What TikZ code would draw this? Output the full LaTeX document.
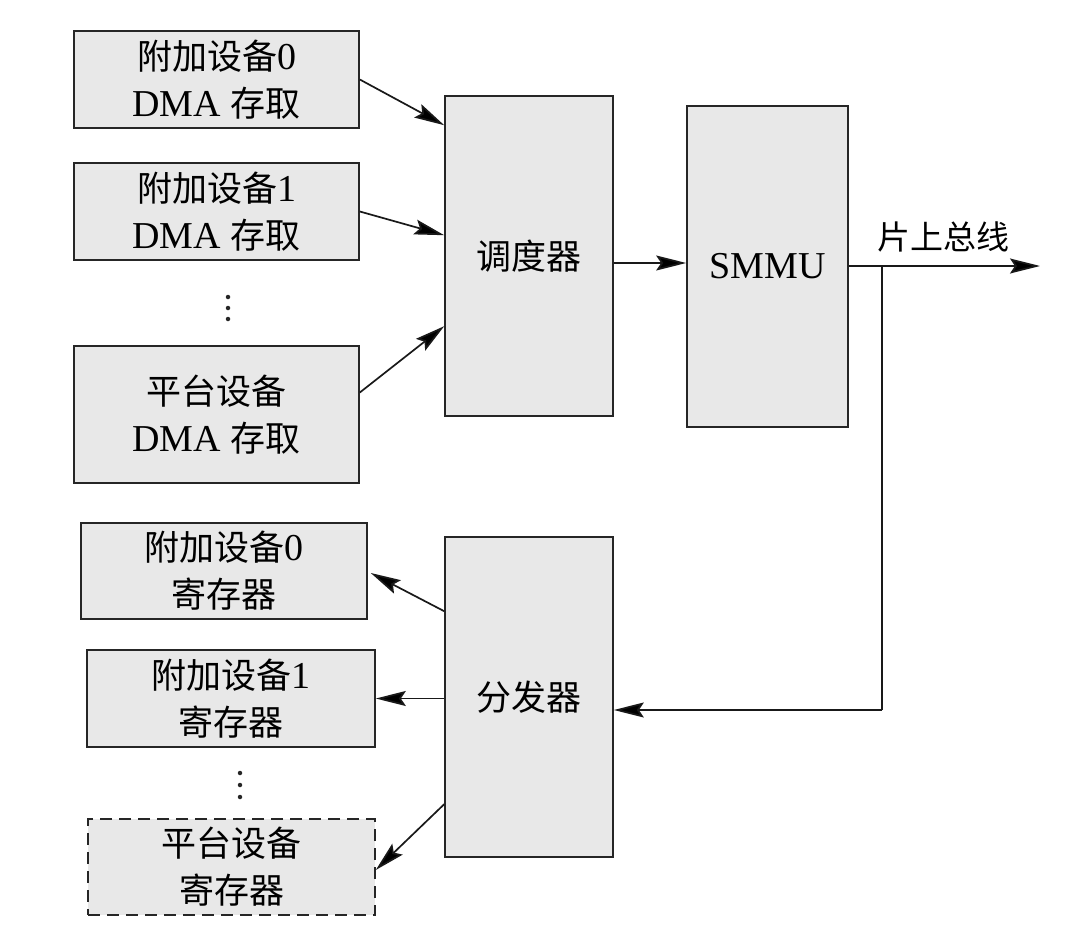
\documentclass[tikz,border=0pt]{standalone}
\usepackage{fontspec}
\setmainfont{Liberation Serif}
\newfontfamily\cjkfont{Noto Sans CJK SC}
\newcommand\cj[1]{{\fontsize{35}{47}\selectfont\cjkfont #1}}
\usetikzlibrary{arrows.meta,calc}

\tikzset{
  blk/.style={draw=black!85, line width=1.6pt, fill=black!9, inner sep=0pt,
              align=center, font=\fontsize{38}{47}\selectfont},
  dashblk/.style={blk, dash pattern=on 12pt off 7pt},
  conn/.style={line width=1.7pt, draw=black!90,
               -{Stealth[length=30pt,width=15pt,inset=5pt,fill=black]}},
  wire/.style={line width=1.7pt, draw=black!90},
  dotmark/.style={circle, fill=black!85, inner sep=0pt, minimum size=4.5pt}
}

\begin{document}
\begin{tikzpicture}[x=1pt,y=-1pt]
\useasboundingbox (0,0) rectangle (1084,939);

% DMA sources
\node[blk, minimum width=285pt, minimum height=97pt] (a0) at (216.5,79.5)
  {\cj{附加设备}0\\DMA \cj{存取}};
\node[blk, minimum width=285pt, minimum height=97pt] (a1) at (216.5,211.5)
  {\cj{附加设备}1\\DMA \cj{存取}};
\node[blk, minimum width=285pt, minimum height=137pt] (ap) at (216.5,414.5)
  {\cj{平台设备}\\DMA \cj{存取}};
\foreach \t [count=\i] in {297,308,319}
  \node[dotmark] (da\i) at (228,\t) {};

% scheduler and SMMU
\node[blk, minimum width=168pt, minimum height=320pt] (sch) at (529,256) {\cj{调度器}};
\node[blk, minimum width=161pt, minimum height=321pt] (smmu) at (767.5,266.5) {SMMU};

% distributor
\node[blk, minimum width=168pt, minimum height=320pt] (dis) at (529,697) {\cj{分发器}};

% register targets
\node[blk, minimum width=286pt, minimum height=96pt] (r0) at (224,571)
  {\cj{附加设备}0\\\cj{寄存器}};
\node[blk, minimum width=288pt, minimum height=97pt] (r1) at (231,698.5)
  {\cj{附加设备}1\\\cj{寄存器}};
\node[dashblk, minimum width=287pt, minimum height=96pt] (rp) at (231.5,867)
  {\cj{平台设备}\\\cj{寄存器}};
\foreach \t [count=\i] in {773,785,797}
  \node[dotmark] (dr\i) at (240,\t) {};

% bus
\coordinate (busend) at (1040,266);
\coordinate (tap) at (882,266);
\coordinate (turn) at (882,710);
\node[font=\fontsize{33}{33}\selectfont\cjkfont] (bus) at (943,237) {片上总线};

% DMA requests into the scheduler
\draw[conn] (a0.east) -- ($(sch.north west)+(0,30)$);
\draw[conn] (a1.east) -- ($(sch.north west)+(0,140)$);
\draw[conn] ($(ap.east)+(0,-22)$) -- ($(sch.north west)+(0,231)$);

% scheduler -> SMMU -> bus
\draw[conn] ($(sch.east)+(0,7)$) -- ($(smmu.west)+(0,-3.5)$);
\draw[conn] ($(smmu.east)+(0,-0.5)$) -- (busend);

% bus tap back into the distributor
\draw[wire] (tap) -- (turn);
\draw[conn] (turn) -- (dis.east |- turn);

% distributor -> register targets
\draw[conn] ($(dis.north west)+(0,75)$) -- ($(r0.east)+(3,2)$);
\draw[conn] (dis.west |- r1.east) -- (r1.east);
\draw[conn] ($(dis.north west)+(0,268)$) -- ($(rp.east)+(0,3)$);
\end{tikzpicture}
\end{document}
